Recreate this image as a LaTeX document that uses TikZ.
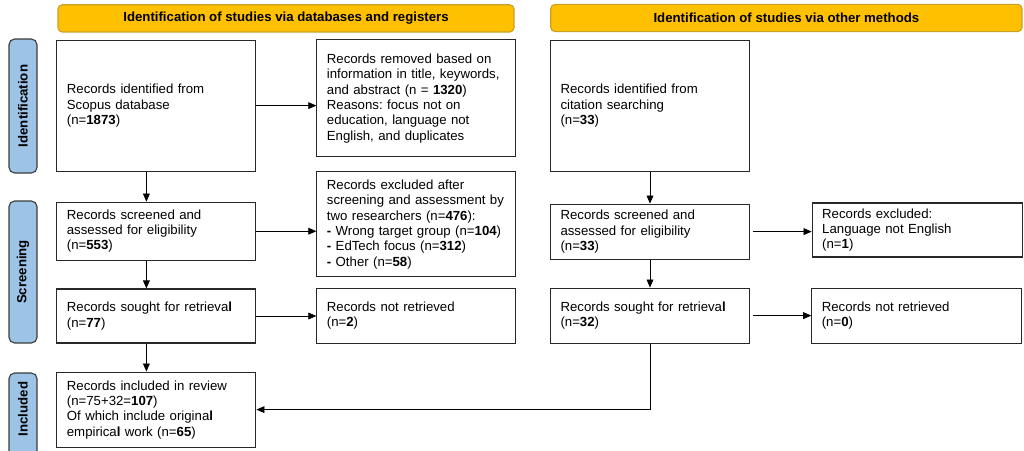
\documentclass[tikz,border=0pt]{standalone}
\usepackage{fontspec}
\setmainfont{Liberation Sans}
\usepackage{xcolor}
\definecolor{header}{RGB}{255,192,0}
\definecolor{headerline}{RGB}{200,160,40}
\definecolor{phase}{RGB}{157,195,230}
\definecolor{phaseline}{RGB}{60,60,60}
\definecolor{boxline}{RGB}{40,40,40}
\usepackage{tikz}
\usetikzlibrary{
    shapes.geometric,
    arrows.meta,
    positioning,
    calc
}
\frenchspacing

\begin{document}
\begin{tikzpicture}[
        record/.style={rectangle, draw=boxline, line width=0.8pt, text width=#1, align=left, inner xsep=0.25cm, font=\fontsize{9.4}{10.9}\selectfont},
        record/.default=4.475cm,
        band/.style={rectangle, rounded corners=3pt, draw=headerline, line width=0.8pt, fill=header, minimum height=0.68cm, font=\fontsize{9.4}{10.9}\selectfont\bfseries},
        phasebar/.style={rectangle, rounded corners=4pt, draw=phaseline, line width=0.8pt, fill=phase, rotate=90, minimum height=0.7cm, font=\fontsize{9.4}{10.9}\selectfont\bfseries},
        arrow/.style={-{Triangle[length=2mm, width=1.7mm]}, line width=0.5pt, color=black}
    ]
        \useasboundingbox (0,0) rectangle (25.6,-11.25);

        \node[band, minimum width=11.4cm] (dbhead) at (7.15,-0.46) {Identification of studies via databases and registers};
        \node[band, minimum width=11.78cm] (otherhead) at (19.66,-0.45) {Identification of studies via other methods};

        \node[phasebar, minimum width=3.35cm] (ident) at (0.575,-2.65) {Identification};
        \node[phasebar, minimum width=3.55cm] (screen) at (0.575,-6.8) {Screening};
        \node[phasebar, minimum width=2.3cm] (incl) at (0.575,-10.475) {\hspace*{0.5cm}Included};

        \node[record, minimum height=3.275cm] (scopus) at (3.91,-2.64) {Records identified from\\Scopus database\\(n=\textbf{1873})};
        \node[record, minimum height=2.925cm] (removed) at (10.41,-2.46) {Records removed based on\\information in title, keywords,\\and abstract (n = \textbf{1320})\\Reasons: focus not on\\education, language not\\English, and duplicates};
        \node[record, minimum height=1.45cm] (screened) at (3.91,-5.78) {Records screened and\\assessed for eligibility\\(n=\textbf{553})};
        \node[record, minimum height=2.625cm] (excluded) at (10.41,-5.61) {Records excluded after\\screening and assessment by\\two researchers (n=\textbf{476}):\\\textbf{-} Wrong target group (n=\textbf{104})\\\textbf{-} EdTech focus (n=\textbf{312})\\\textbf{-} Other (n=\textbf{58})};
        \node[record, minimum height=1.35cm] (sought) at (3.91,-7.9) {Records sought for retrieva\textbf{l}\\(n=\textbf{77})};
        \node[record, minimum height=1.375cm] (notret) at (10.41,-7.89) {Records not retrieved\\(n=\textbf{2})};
        \node[record, minimum height=1.875cm] (included) at (3.91,-10.24) {Records included in review\\(n=75+32=\textbf{107})\\Of which include origina\textbf{l}\\empirica\textbf{l} work (n=\textbf{65})};

        \node[record, minimum height=3.275cm] (citation) at (16.25,-2.64) {Records identified from\\citation searching\\(n=\textbf{33})};
        \node[record, minimum height=1.375cm] (screened2) at (16.25,-5.79) {Records screened and\\assessed for eligibility\\(n=\textbf{33})};
        \node[record=4.75cm, minimum height=1.35cm] (excluded2) at (22.93,-5.75) {Records excluded:\\Language not English\\(n=\textbf{1})};
        \node[record, minimum height=1.375cm] (sought2) at (16.25,-7.89) {Records sought for retrieva\textbf{l}\\(n=\textbf{32})};
        \node[record=4.75cm, minimum height=1.375cm] (notret2) at (22.92,-7.89) {Records not retrieved\\(n=\textbf{0})};

        \draw[arrow] (scopus.east) -- (scopus.east -| removed.west);
        \draw[arrow] ([xshift=-0.25cm]scopus.south) -- ([xshift=-0.25cm]screened.north);
        \draw[arrow] (screened.east) -- (screened.east -| excluded.west);
        \draw[arrow] ([xshift=-0.25cm]screened.south) -- ([xshift=-0.25cm]sought.north);
        \draw[arrow] (sought.east) -- (sought.east -| notret.west);
        \draw[arrow] ([xshift=-0.25cm]sought.south) -- ([xshift=-0.25cm]included.north);

        \draw[arrow] (citation.south) -- (screened2.north);
        \draw[arrow] ([xshift=0.08cm]screened2.east) -- (screened2.east -| excluded2.west);
        \draw[arrow] (screened2.south) -- (sought2.north);
        \draw[arrow] ([xshift=0.08cm]sought2.east) -- (sought2.east -| notret2.west);
        \draw[arrow] (sought2.south) |- (included.east);
    \end{tikzpicture}
\end{document}
